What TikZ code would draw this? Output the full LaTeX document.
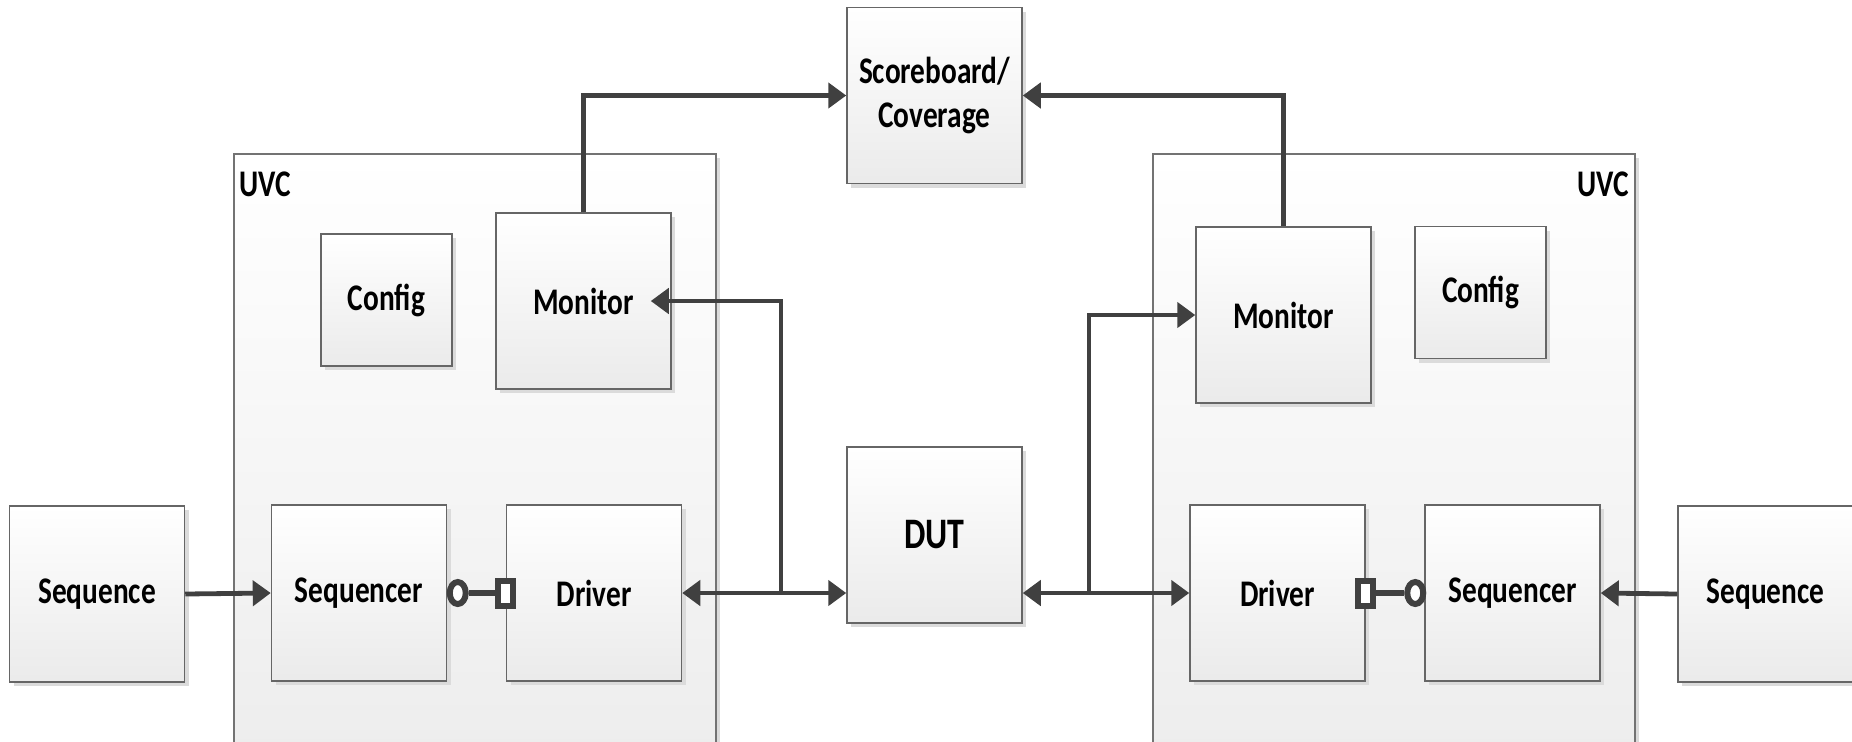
\documentclass[tikz,border=0pt]{standalone}
\usepackage{fontspec}
\setmainfont{Carlito}[FakeStretch=0.78]
\usetikzlibrary{arrows.meta,shadows,shapes.geometric}

\begin{document}
\begin{tikzpicture}[x=0.5pt,y=-0.5pt,
	shade/.style={drop shadow={opacity=1, fill=black!14, shadow xshift=2pt, shadow yshift=-2pt}},
	blk/.style={draw=black!60, line width=0.75pt, top color=white, bottom color=black!8, shade,
		minimum width=87.5pt, minimum height=88pt, inner sep=0pt, align=center,
		font=\bfseries\fontsize{18.8}{21}\selectfont},
	cfg/.style={blk, minimum width=65.5pt, minimum height=66pt},
	uvc/.style={draw=black!55, line width=0.75pt, top color=white, bottom color=black!7, shade,
		minimum width=241pt, minimum height=298pt, inner sep=0pt},
	lbl/.style={inner sep=0pt, font=\bfseries\fontsize{18.8}{21}\selectfont},
	wire/.style={draw=black!75, line width=2.4pt},
	arr/.style={wire, -{Triangle[length=9pt,width=12.5pt]}},
	dbl/.style={wire, {Triangle[length=9pt,width=12.5pt]}-{Triangle[length=9pt,width=12.5pt]}},
	ring/.style={draw=black!75, line width=3pt, fill=white, ellipse, minimum width=8pt, minimum height=11pt, inner sep=0pt},
	sock/.style={draw=black!75, line width=3pt, fill=white, minimum width=7.5pt, minimum height=12.5pt, inner sep=0pt}
]
	\useasboundingbox (0,0) rectangle (1852,741);

	% the two agents
	\node[uvc] (uvcL) at (475,452) {};
	\node[uvc] (uvcR) at (1394,452) {};
	\node[lbl, anchor=north west] (uvcLt) at ([shift={(3pt,-9pt)}]uvcL.north west) {UVC};
	\node[lbl, anchor=north east] (uvcRt) at ([shift={(-3pt,-9pt)}]uvcR.north east) {UVC};

	% blocks
	\node[blk] (sb) at (934.5,95.5) {Scoreboard/\\[1pt]Coverage};
	\node[blk, font=\bfseries\fontsize{21.75}{24}\selectfont] (dut) at (934.5,535) {DUT};

	\node[blk] (seqL) at (97,594) {Sequence};
	\node[blk] (sqrL) at (359,593) {Sequencer};
	\node[blk] (drvL) at (594,593) {Driver};
	\node[blk] (monL) at (583.5,301) {Monitor};
	\node[cfg] (cfgL) at (386.5,300) {Config};

	\node[blk] (seqR) at (1765.5,594) {Sequence};
	\node[blk] (sqrR) at (1512.5,593) {Sequencer};
	\node[blk] (drvR) at (1277.5,593) {Driver};
	\node[blk] (monR) at (1283.5,315) {Monitor};
	\node[cfg] (cfgR) at (1480.5,292.5) {Config};

	% sequencer/driver ports
	\node[ring] (pcL) at ([xshift=5.25pt]sqrL.east) {};
	\node[sock] (psL) at (drvL.west) {};
	\node[ring] (pcR) at ([xshift=-4.5pt]sqrR.west) {};
	\node[sock] (psR) at (drvR.east) {};
	\draw[wire, line width=2.8pt] (pcL) -- (psL);
	\draw[wire, line width=2.8pt] (pcR) -- (psR);

	% connections
	\draw[arr] (seqL.east) -- (sqrL.west);
	\draw[arr] (seqR.west) -- (sqrR.east);

	\coordinate (jL) at (781,593);
	\coordinate (jR) at (1089,593);
	\draw[dbl] (drvL.east) -- (drvL.east -| dut.west);
	\draw[dbl] (drvR.west) -- (drvR.west -| dut.east);
	\draw[arr, shorten >=-10.5pt] (jL) |- (monL.east);
	\draw[arr] (jR) |- (monR.west);

	\draw[arr] (monL.north) |- (sb.west);
	\draw[arr] (monR.north) |- (sb.east);
\end{tikzpicture}
\end{document}
